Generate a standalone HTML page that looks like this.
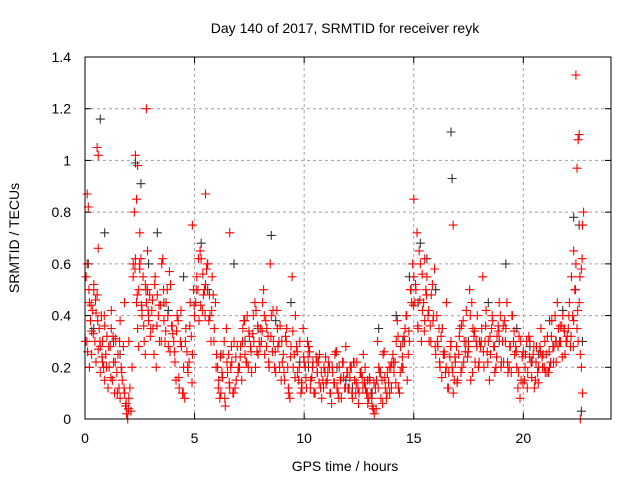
<!DOCTYPE html>
<html><head><meta charset="utf-8">
<style>
body{margin:0;background:#fff;}
svg text{font-family:"Liberation Sans",sans-serif;fill:#000;}
</style></head>
<body>
<svg id="chart" width="640" height="480" viewBox="0 0 640 480">
<rect width="640" height="480" fill="#fff"/>
<text x="345" y="33" font-size="14" text-anchor="middle">Day 140 of 2017, SRMTID for receiver reyk</text>
<text x="345" y="471" font-size="14" text-anchor="middle">GPS time / hours</text>
<text transform="translate(19,238) rotate(-90)" font-size="14" text-anchor="middle">SRMTID / TECUs</text>
<g id="grid"></g>
<g id="ticks"></g>
<g id="black"></g>
<g id="red"></g>
<rect x="85" y="57" width="526" height="362" fill="none" stroke="#000" stroke-width="1"/>
</svg>
<script>
const xTicks=[0,5,10,15,20];
const yTicks=[0,0.2,0.4,0.6,0.8,1,1.2,1.4];
const yTickLabels=["0","0.2","0.4","0.6","0.8","1","1.2","1.4"];
const redT=[0.05,0.1,0.15,0.2,0.25,0.3,0.35,0.4,0.45,0.5,0.55,0.6,0.65,0.7,0.75,0.8,0.85,0.9,0.95,1.0,0.1,0.2,0.3,0.4,0.5,0.6,0.7,0.8,0.9,0.55,0.6,0.08,0.12,
1.05,1.1,1.15,1.2,1.25,1.3,1.35,1.4,1.45,1.5,1.55,1.6,1.65,1.7,1.75,1.8,1.85,1.9,1.95,2.0,2.05,2.1,2.15,1.2,1.4,1.6,1.8,2.0,
2.2,2.25,2.3,2.35,2.4,2.45,2.5,2.55,2.6,2.65,2.7,2.75,2.8,2.85,2.9,2.95,3.0,2.3,2.4,2.5,2.6,2.7,2.8,2.9,2.35,2.45,2.75,2.2,2.85,
3.05,3.1,3.2,3.3,3.4,3.5,3.6,3.7,3.8,3.9,4.0,3.15,3.35,3.55,3.75,3.95,3.25,3.45,3.65,3.85,
4.05,4.1,4.2,4.3,4.4,4.5,4.6,4.7,4.8,4.9,5.0,4.15,4.35,4.55,4.75,4.95,4.25,4.45,4.65,4.85,
5.05,5.1,5.2,5.3,5.4,5.5,5.6,5.7,5.8,5.9,6.0,5.15,5.35,5.55,5.75,5.95,5.25,5.45,5.65,5.85,5.5,4.9,
6.05,6.1,6.2,6.3,6.4,6.5,6.6,6.7,6.8,6.9,7.0,6.15,6.35,6.55,6.75,6.95,6.25,6.45,6.65,6.85,6.6,
7.05,7.1,7.2,7.3,7.4,7.5,7.6,7.7,7.8,7.9,8.0,7.15,7.35,7.55,7.75,7.95,7.25,7.45,7.65,7.85,
8.05,8.1,8.2,8.3,8.4,8.5,8.6,8.7,8.8,8.9,9.0,8.15,8.35,8.55,8.75,8.95,8.25,8.45,8.65,8.85,
9.05,9.1,9.2,9.3,9.4,9.5,9.6,9.7,9.8,9.9,10.0,9.15,9.35,9.55,9.75,9.95,9.25,9.45,9.65,9.85,
10.05,10.1,10.2,10.3,10.4,10.5,10.6,10.7,10.8,10.9,11.0,10.15,10.35,10.55,10.75,10.95,10.25,10.45,10.65,10.85,
11.05,11.1,11.2,11.3,11.4,11.5,11.6,11.7,11.8,11.9,12.0,11.15,11.35,11.55,11.75,11.95,11.25,11.45,11.65,11.85,
12.05,12.1,12.2,12.3,12.4,12.5,12.6,12.7,12.8,12.9,13.0,12.15,12.35,12.55,12.75,12.95,12.25,12.45,12.65,12.85,
13.05,13.1,13.2,13.3,13.4,13.5,13.6,13.7,13.8,13.9,14.0,13.15,13.35,13.55,13.75,13.95,13.25,13.45,13.65,13.85,
14.05,14.1,14.2,14.3,14.4,14.5,14.6,14.7,14.8,14.9,15.0,14.15,14.35,14.55,14.75,14.95,14.25,14.45,14.65,14.85,
15.05,15.1,15.2,15.3,15.4,15.5,15.6,15.7,15.8,15.9,16.0,15.15,15.35,15.55,15.75,15.95,15.25,15.45,15.65,15.85,15.0,15.5,
16.05,16.1,16.2,16.3,16.4,16.5,16.6,16.7,16.8,16.9,17.0,16.15,16.35,16.55,16.75,16.95,16.25,16.45,16.65,16.85,16.8,
17.05,17.1,17.2,17.3,17.4,17.5,17.6,17.7,17.8,17.9,18.0,17.15,17.35,17.55,17.75,17.95,17.25,17.45,17.65,17.85,
18.05,18.1,18.2,18.3,18.4,18.5,18.6,18.7,18.8,18.9,19.0,18.15,18.35,18.55,18.75,18.95,18.25,18.45,18.65,18.85,
19.05,19.1,19.2,19.3,19.4,19.5,19.6,19.7,19.8,19.9,20.0,19.15,19.35,19.55,19.75,19.95,19.25,19.45,19.65,19.85,
20.05,20.1,20.2,20.3,20.4,20.5,20.6,20.7,20.8,20.9,21.0,20.15,20.35,20.55,20.75,20.95,20.25,20.45,20.65,20.85,
21.05,21.1,21.2,21.3,21.4,21.5,21.6,21.7,21.8,21.9,22.0,21.15,21.35,21.55,21.75,21.95,21.25,21.45,21.65,21.85,
22.05,22.1,22.15,22.2,22.25,22.3,22.35,22.4,22.45,22.5,22.55,22.6,22.65,22.7,22.75,22.4,22.45,22.5,22.55,22.6,22.65,22.7,22.3];
const redV=[0.55,0.87,0.82,0.45,0.38,0.25,0.42,0.52,0.3,0.22,0.48,0.66,0.35,0.28,0.4,0.3,0.2,0.36,0.25,0.32,0.6,0.2,0.34,0.5,0.41,0.27,0.18,0.22,0.15,1.05,1.02,0.3,0.26,
0.12,0.2,0.28,0.35,0.15,0.22,0.1,0.3,0.18,0.25,0.12,0.08,0.2,0.15,0.28,0.1,0.05,0.02,0.0,0.08,0.12,0.03,0.2,0.42,0.31,0.38,0.45,0.3,
0.55,0.8,0.62,0.45,0.35,0.5,0.72,0.62,0.4,0.55,0.3,0.52,0.45,0.65,0.38,0.48,0.35,1.02,0.98,0.58,0.42,0.3,1.2,0.4,0.85,0.28,0.25,0.6,0.5,
0.42,0.35,0.55,0.48,0.3,0.6,0.38,0.45,0.28,0.52,0.33,0.25,0.4,0.62,0.5,0.36,0.2,0.44,0.3,0.57,
0.3,0.22,0.4,0.12,0.28,0.2,0.35,0.18,0.45,0.25,0.4,0.15,0.3,0.08,0.22,0.5,0.38,0.1,0.26,0.32,
0.45,0.55,0.38,0.62,0.48,0.52,0.6,0.4,0.55,0.35,0.25,0.5,0.42,0.58,0.3,0.45,0.65,0.5,0.38,0.48,0.87,0.75,
0.2,0.15,0.1,0.25,0.05,0.18,0.12,0.22,0.3,0.15,0.2,0.08,0.3,0.25,0.1,0.28,0.18,0.35,0.2,0.12,0.72,
0.2,0.28,0.35,0.25,0.4,0.32,0.18,0.3,0.42,0.25,0.35,0.15,0.22,0.28,0.45,0.3,0.38,0.2,0.33,0.26,
0.3,0.45,0.25,0.35,0.2,0.4,0.3,0.18,0.28,0.36,0.22,0.5,0.32,0.26,0.42,0.15,0.38,0.6,0.2,0.3,
0.25,0.15,0.35,0.1,0.28,0.2,0.4,0.18,0.3,0.12,0.22,0.32,0.08,0.25,0.15,0.35,0.2,0.55,0.28,0.1,
0.2,0.12,0.28,0.15,0.22,0.1,0.18,0.25,0.08,0.2,0.14,0.3,0.16,0.24,0.12,0.18,0.26,0.1,0.22,0.15,
0.15,0.22,0.1,0.18,0.25,0.12,0.2,0.08,0.16,0.28,0.12,0.2,0.14,0.1,0.22,0.18,0.06,0.26,0.15,0.12,
0.12,0.2,0.08,0.15,0.22,0.1,0.18,0.25,0.12,0.06,0.15,0.2,0.1,0.18,0.14,0.08,0.22,0.12,0.16,0.1,
0.1,0.05,0.02,0.15,0.2,0.08,0.25,0.12,0.18,0.1,0.22,0.04,0.3,0.15,0.08,0.2,0.12,0.18,0.26,0.14,
0.25,0.18,0.3,0.12,0.28,0.2,0.35,0.15,0.3,0.45,0.55,0.22,0.1,0.32,0.25,0.6,0.38,0.2,0.4,0.5,
0.45,0.5,0.35,0.6,0.42,0.38,0.55,0.3,0.48,0.4,0.25,0.72,0.3,0.5,0.36,0.58,0.65,0.45,0.4,0.52,0.85,0.62,
0.4,0.28,0.2,0.35,0.25,0.45,0.18,0.3,0.1,0.22,0.15,0.35,0.25,0.12,0.2,0.28,0.32,0.18,0.24,0.15,0.75,
0.25,0.35,0.2,0.3,0.42,0.28,0.15,0.35,0.22,0.4,0.3,0.18,0.26,0.5,0.32,0.2,0.38,0.24,0.45,0.3,
0.28,0.35,0.2,0.42,0.3,0.25,0.38,0.18,0.32,0.45,0.22,0.55,0.26,0.35,0.2,0.4,0.3,0.15,0.28,0.36,
0.3,0.22,0.35,0.18,0.28,0.4,0.25,0.2,0.32,0.15,0.26,0.38,0.2,0.3,0.12,0.24,0.45,0.18,0.28,0.08,
0.15,0.25,0.18,0.3,0.22,0.12,0.28,0.2,0.35,0.25,0.18,0.3,0.22,0.15,0.28,0.2,0.32,0.25,0.18,0.24,
0.25,0.32,0.2,0.38,0.28,0.22,0.35,0.3,0.4,0.25,0.32,0.18,0.28,0.45,0.36,0.3,0.22,0.4,0.3,0.35,
0.35,0.45,0.28,0.55,0.4,0.65,0.5,0.6,0.35,0.3,0.45,0.25,0.2,0.75,0.8,1.33,0.97,1.08,1.1,0.0,0.58,0.1,0.38];
const red2T=[0.02,0.18,0.28,0.38,0.48,0.58,0.68,0.78,0.88,0.98,1.08,1.18,1.28,1.38,1.48,1.58,1.68,1.78,1.88,1.98,2.28,2.38,2.48,2.58,2.68,2.78,2.88,2.98,3.08,3.18,3.28,3.38,3.48,3.58,3.68,3.78,3.88,3.98,
4.08,4.18,4.28,4.38,4.48,4.58,4.68,4.78,4.88,4.98,5.08,5.18,5.28,5.38,5.48,5.58,5.68,5.78,5.88,5.98,6.08,6.18,6.28,6.38,6.48,6.58,6.68,6.78,6.88,6.98,
7.08,7.18,7.28,7.38,7.48,7.58,7.68,7.78,7.88,7.98,8.08,8.18,8.28,8.38,8.48,8.58,8.68,8.78,8.88,8.98,9.08,9.18,9.28,9.38,9.48,9.58,9.68,9.78,9.88,9.98,
10.08,10.18,10.28,10.38,10.48,10.58,10.68,10.78,10.88,10.98,11.08,11.18,11.28,11.38,11.48,11.58,11.68,11.78,11.88,11.98,
12.08,12.18,12.28,12.38,12.48,12.58,12.68,12.78,12.88,12.98,13.08,13.18,13.28,13.38,13.48,13.58,13.68,13.78,13.88,13.98,
14.08,14.18,14.28,14.38,14.48,14.58,14.68,14.78,14.88,14.98,15.08,15.18,15.28,15.38,15.48,15.58,15.68,15.78,15.88,15.98,
16.08,16.18,16.28,16.38,16.48,16.58,16.68,16.78,16.88,16.98,17.08,17.18,17.28,17.38,17.48,17.58,17.68,17.78,17.88,17.98,
18.08,18.18,18.28,18.38,18.48,18.58,18.68,18.78,18.88,18.98,19.08,19.18,19.28,19.38,19.48,19.58,19.68,19.78,19.88,19.98,
20.08,20.18,20.28,20.38,20.48,20.58,20.68,20.78,20.88,20.98,21.08,21.18,21.28,21.38,21.48,21.58,21.68,21.78,21.88,21.98,22.08,22.18,22.28,22.38,22.48,22.58,22.68];
const red2V=[0.3,0.5,0.44,0.33,0.46,0.38,0.3,0.24,0.4,0.2,0.28,0.16,0.32,0.22,0.1,0.3,0.18,0.12,0.06,0.04,0.58,0.48,0.6,0.44,0.36,0.5,0.42,0.32,0.46,0.52,0.36,0.44,0.3,0.5,0.34,0.4,0.26,0.36,
0.26,0.34,0.16,0.42,0.1,0.3,0.2,0.36,0.14,0.44,0.5,0.62,0.44,0.56,0.4,0.6,0.48,0.42,0.3,0.2,0.12,0.24,0.16,0.08,0.22,0.14,0.28,0.1,0.24,0.18,
0.24,0.3,0.38,0.22,0.34,0.26,0.4,0.2,0.36,0.28,0.34,0.4,0.28,0.22,0.32,0.42,0.26,0.35,0.2,0.3,0.18,0.3,0.12,0.24,0.34,0.16,0.26,0.2,0.14,0.24,
0.16,0.24,0.12,0.2,0.1,0.22,0.14,0.18,0.12,0.24,0.18,0.1,0.2,0.14,0.26,0.08,0.16,0.22,0.12,0.18,
0.16,0.1,0.22,0.14,0.06,0.18,0.12,0.2,0.1,0.16,0.08,0.14,0.04,0.12,0.18,0.06,0.16,0.1,0.2,0.12,
0.22,0.14,0.32,0.18,0.24,0.3,0.4,0.34,0.5,0.44,0.52,0.36,0.46,0.56,0.34,0.48,0.42,0.3,0.38,0.28,
0.3,0.22,0.16,0.26,0.2,0.12,0.28,0.18,0.24,0.14,0.32,0.36,0.22,0.3,0.26,0.4,0.18,0.34,0.28,0.22,
0.3,0.26,0.36,0.22,0.32,0.4,0.28,0.24,0.34,0.2,0.36,0.3,0.22,0.28,0.4,0.34,0.26,0.18,0.3,0.14,
0.2,0.12,0.24,0.16,0.28,0.22,0.14,0.26,0.2,0.3,0.18,0.26,0.32,0.22,0.3,0.28,0.36,0.24,0.34,0.3,0.4,0.32,0.28,0.5,0.42,0.55,0.62];
const blackT=[0.15,0.4,0.7,0.9,1.6,2.3,2.55,2.9,3.3,3.8,4.5,5.3,5.6,6.8,7.3,8.5,8.7,9.4,9.8,10.6,11.5,12.2,12.9,13.4,14.2,14.8,15.3,15.6,16.0,16.7,16.75,17.5,18.4,19.2,19.7,20.3,21.2,21.8,22.3,22.55,22.65,22.7,1.3,3.6,6.2,7.9,10.2,11.9,13.1,14.5,15.2,16.3,18.9,20.7,21.5];
const blackV=[0.6,0.35,1.16,0.72,0.25,0.99,0.91,0.6,0.72,0.42,0.55,0.68,0.5,0.6,0.3,0.71,0.38,0.45,0.22,0.18,0.2,0.12,0.15,0.35,0.4,0.55,0.68,0.62,0.5,1.11,0.93,0.3,0.45,0.6,0.35,0.28,0.38,0.42,0.78,0.75,0.03,0.3,0.3,0.45,0.25,0.35,0.2,0.15,0.1,0.3,0.45,0.35,0.3,0.25,0.3];
const NS="http://www.w3.org/2000/svg";
const X0=85,X1=611,Y0=419,Y1=57,XMAX=24,YMAX=1.4;
function xs(t){return X0+(X1-X0)*t/XMAX;}
function ys(v){return Y0-(Y0-Y1)*v/YMAX;}
function mk(tag,attrs,parent){const e=document.createElementNS(NS,tag);for(const k in attrs)e.setAttribute(k,attrs[k]);parent.appendChild(e);return e;}
const grid=document.getElementById('grid'),ticks=document.getElementById('ticks');
xTicks.forEach(t=>{
  const x=xs(t);
  if(t>0){const g=mk('line',{x1:x,x2:x,y1:Y0,y2:Y1,stroke:'#a0a0a0','stroke-dasharray':'3,3','stroke-width':1},grid);
  
  }
  mk('line',{x1:x,x2:x,y1:Y0,y2:Y0-6,stroke:'#000'},ticks);
  mk('line',{x1:x,x2:x,y1:Y1,y2:Y1+6,stroke:'#000'},ticks);
  const l=mk('text',{x:x,y:443,'font-size':14,'text-anchor':'middle'},ticks);l.textContent=t;
  
  
});
yTicks.forEach((v,i)=>{
  const y=ys(v);
  if(v>0&&v<YMAX){const g=mk('line',{x1:X0,x2:X1,y1:y,y2:y,stroke:'#a0a0a0','stroke-dasharray':'3,3','stroke-width':1},grid);
  
  }
  mk('line',{x1:X0,x2:X0+6,y1:y,y2:y,stroke:'#000'},ticks);
  mk('line',{x1:X1,x2:X1-6,y1:y,y2:y,stroke:'#000'},ticks);
  const l=mk('text',{x:71,y:y+5,'font-size':14,'text-anchor':'end'},ticks);l.textContent=yTickLabels[i];
  
  
});
function plot(T,V,g,color,name){
  let d='';
  for(let i=0;i<T.length&&i<V.length;i++){
    const x=xs(T[i]),y=ys(V[i]);
    d+=`M${(x-4.5).toFixed(1)} ${y.toFixed(1)}h9M${x.toFixed(1)} ${(y-4.5).toFixed(1)}v9`;
  }
  const p=mk('path',{d:d,stroke:color,'stroke-width':1.1,fill:'none'},g);
  
  
}
plot(blackT,blackV,document.getElementById('black'),'#333','black-points');
plot(redT,redV,document.getElementById('red'),'#ff0000','red-points');
plot(red2T,red2V,document.getElementById('red'),'#ff0000','red-points-2');
</script>
</body></html>
